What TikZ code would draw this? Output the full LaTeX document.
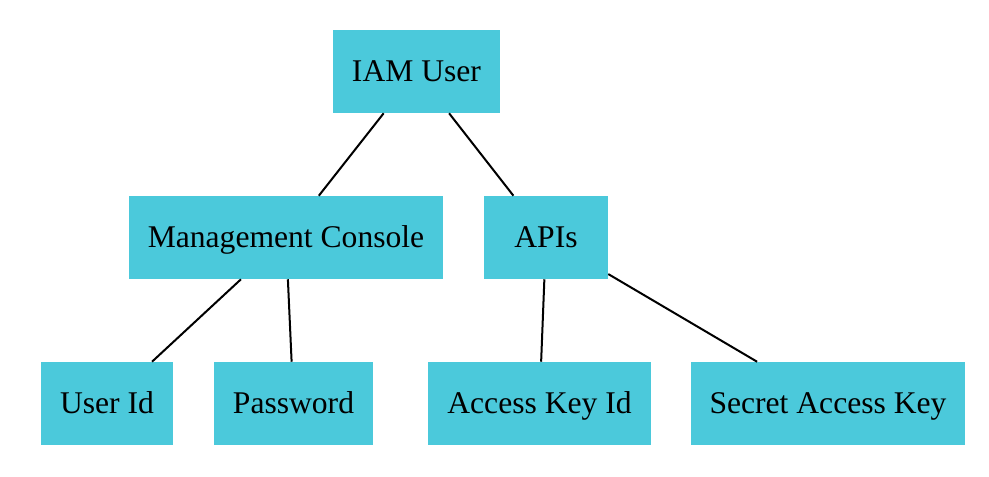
\documentclass[tikz,border=0pt]{standalone}
\usepackage{fontspec}
\setmainfont{Liberation Serif}
\definecolor{boxcyan}{RGB}{75,201,219}

\begin{document}
\begin{tikzpicture}[x=0.75pt,y=0.75pt,yscale=-1,xscale=1]
\tikzset{
  box/.style={fill=boxcyan, draw=none, inner xsep=14.25pt, inner ysep=0pt,
    minimum height=62.25pt, text height=15.7pt, text depth=0pt,
    font=\fontsize{23.7}{28}\selectfont},
  link/.style={line width=1.5pt}
}
\useasboundingbox (0,0) rectangle (989,477);

% Boxes
\node [box] (iam) at (416.5,71.5) {IAM User};
\node [box] (console) at (286,237.5) {Management Console};
\node [box, minimum width=93pt] (apis) at (546,237.5) {APIs};
\node [box] (userid) at (107,403.5) {User Id};
\node [box] (password) at (293.5,403.5) {Password};
\node [box] (keyid) at (539.5,403.5) {Access Key Id};
\node [box] (secret) at (828,403.5) {Secret Access Key};

% Connections
\draw [link] (iam) -- (console);
\draw [link] (iam) -- (apis);
\draw [link] (console) -- (userid);
\draw [link] (console) -- (password);
\draw [link] (apis) -- (keyid);
\draw [link] (apis) -- (secret);

\end{tikzpicture}
\end{document}
